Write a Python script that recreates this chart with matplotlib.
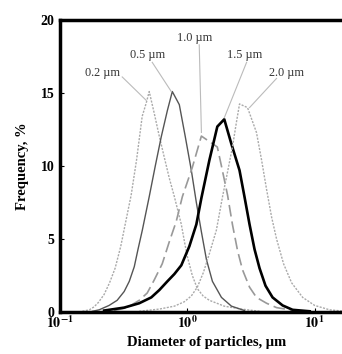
import matplotlib
matplotlib.use("Agg")
import matplotlib.pyplot as plt

plt.rcParams['font.family'] = ['Liberation Serif', 'DejaVu Serif']
plt.rcParams['mathtext.fontset'] = 'stix'

# particle size distributions (diameter um, frequency %)
d_02 = [0.15, 0.17, 0.185, 0.2, 0.222, 0.245, 0.271, 0.3, 0.325, 0.362, 0.399, 0.442, 0.475,
        0.502, 0.550, 0.6, 0.659, 0.72, 0.791, 0.897, 0.95, 1.00, 1.094, 1.198, 1.33, 1.49,
        1.95, 2.66, 3.69]
f_02 = [0.05, 0.15, 0.35, 0.65, 1.2, 2.0, 3.0, 4.5, 6.0, 8.0, 10.4, 13.4, 14.3,
        15.1, 13.6, 12.1, 10.6, 9.2, 7.9, 6.0, 4.8, 3.8, 2.5, 1.6, 1.1, 0.8,
        0.4, 0.2, 0.05]

d_05 = [0.18, 0.203, 0.243, 0.281, 0.319, 0.35, 0.383, 0.41, 0.443, 0.502, 0.560, 0.624,
        0.697, 0.762, 0.865, 0.964, 1.075, 1.177, 1.289, 1.412, 1.574, 1.853, 2.22, 2.81]
f_05 = [0.05, 0.15, 0.45, 0.8, 1.4, 2.1, 3.1, 4.3, 5.6, 7.9, 10.0, 12.0,
        13.8, 15.1, 14.2, 12.0, 9.7, 7.5, 5.5, 3.6, 2.1, 1.0, 0.4, 0.1]

d_10 = [0.266, 0.337, 0.419, 0.484, 0.550, 0.635, 0.721, 0.818, 0.914, 1.094, 1.289, 1.72,
        1.853, 2.07, 2.26, 2.48, 2.71, 3.08, 3.49, 4.19, 5.02, 6.96]
f_10 = [0.1, 0.3, 0.8, 1.3, 2.2, 3.3, 4.8, 6.2, 7.9, 9.9, 12.05, 11.3,
        10.0, 8.0, 6.0, 4.2, 2.9, 1.7, 1.0, 0.6, 0.3, 0.1]

d_15 = [0.222, 0.319, 0.419, 0.521, 0.602, 0.697, 0.791, 0.897, 1.037, 1.177, 1.289, 1.49,
        1.72, 1.95, 2.22, 2.57, 2.81, 3.08, 3.37, 3.69, 4.11, 4.67, 5.60, 6.71, 9.14]
f_15 = [0.1, 0.3, 0.6, 1.0, 1.5, 2.1, 2.6, 3.2, 4.5, 6.0, 7.8, 10.4,
        12.7, 13.2, 11.5, 9.7, 7.9, 6.0, 4.3, 3.0, 1.8, 1.0, 0.45, 0.15, 0.05]

d_20 = [0.419, 0.602, 0.791, 0.946, 1.075, 1.198, 1.336, 1.49, 1.69, 1.89, 2.07, 2.26,
        2.43, 2.57, 2.97, 3.49, 3.83, 4.19, 4.59, 5.02, 5.70, 6.59, 8.05, 10.0, 13.1, 17.2]
f_20 = [0.05, 0.2, 0.4, 0.7, 1.1, 1.7, 2.7, 4.0, 5.6, 7.9, 9.6, 11.3,
        13.0, 14.25, 14.0, 12.3, 10.4, 8.4, 6.5, 5.0, 3.3, 2.0, 1.0, 0.45, 0.15, 0.05]

labels = ['0.2 µm', '0.5 µm', '1.0 µm', '1.5 µm', '2.0 µm']
label_xy = [(0.214, 16.4), (0.484, 17.6), (1.135, 18.8), (2.81, 17.6), (6.03, 16.4)]
leader_start = [(0.308, 16.1), (0.53, 17.1), (1.24, 18.3), (2.92, 17.1), (5.02, 16.0)]
leader_end = [(0.475, 14.5), (0.748, 15.1), (1.29, 12.3), (1.95, 13.3), (3.08, 14.0)]

fig = plt.figure(figsize=(3.42, 3.54), dpi=100)
ax = fig.add_axes([60 / 342, 42 / 354, 293 / 342, 292 / 354])

ax.plot(d_02, f_02, color='#aaaaaa', lw=1.0, ls=(0, (1.5, 1)))
ax.plot(d_05, f_05, color='#555555', lw=1.0)
ax.plot(d_10, f_10, color='#999999', lw=1.2, ls=(0, (7, 3)))
ax.plot(d_15, f_15, color='black', lw=1.9)
ax.plot(d_20, f_20, color='#aaaaaa', lw=1.0, ls=(0, (1.5, 1)))

for lab, xy, s, e in zip(labels, label_xy, leader_start, leader_end):
    ax.text(xy[0], xy[1], lab, fontsize=8.8, ha='center', va='center', color='#333333')
    ax.plot([s[0], e[0]], [s[1], e[1]], color='#bbbbbb', lw=0.8)

ax.set_xscale('log')
ax.set_xlim(0.1, 20)
ax.set_ylim(0, 20)
ax.set_xticks([0.1, 1, 10])
ax.set_xticklabels([r'$\mathbf{10^{-1}}$', r'$\mathbf{10^{0}}$', r'$\mathbf{10^{1}}$'])
ax.minorticks_off()
ax.set_yticks([0, 5, 10, 15, 20])
ax.set_yticklabels(['0', '5', '10', '15', '20'], fontweight='bold')
ax.tick_params(direction='in', length=3, width=0.8, labelsize=10, pad=4)
ax.tick_params(axis='x', pad=2)

for side in ['left', 'top', 'bottom']:
    ax.spines[side].set_linewidth(2.5)
ax.spines['right'].set_visible(False)

ax.set_xlabel('Diameter of particles, µm', fontsize=10.5, fontweight='bold', labelpad=3)
ax.set_ylabel('Frequency, %', fontsize=10.5, fontweight='bold', labelpad=8)

fig.savefig('out.png', dpi=100)
